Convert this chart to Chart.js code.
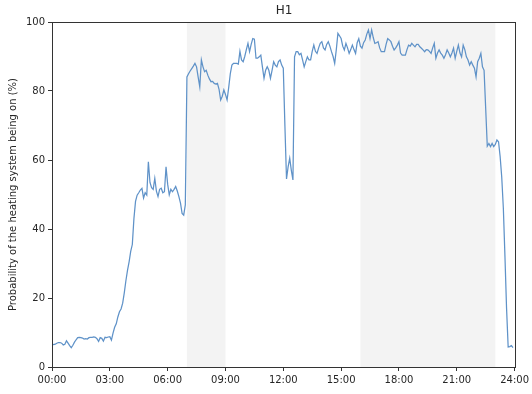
<!DOCTYPE html>
<html>
<head>
<meta charset="utf-8">
<script src="https://cdn.jsdelivr.net/npm/chart.js@4/dist/chart.umd.min.js"></script>
<style>
  html, body { margin: 0; padding: 0; background: #fff; }
  #wrap { width: 532px; height: 394px; }
</style>
</head>
<body>
<div id="wrap"><canvas id="c" width="532" height="394"></canvas></div>
<script>
// Probability (%) that the heating is on, one reading every 5 minutes, 00:00 to 23:55
const stepMinutes = 5;
const probability = [
  6.6, 6.5, 6.6, 6.9, 7.1, 7.1, 6.9, 6.4, 6.6, 7.6, 6.9, 6.2,          // 00h
  5.6, 6.3, 7.2, 7.9, 8.5, 8.6, 8.5, 8.4, 8.1, 8.2, 8.1, 8.5,          // 01h
  8.6, 8.6, 8.7, 8.6, 8.2, 7.4, 8.5, 8.3, 7.5, 8.6, 8.5, 8.7,          // 02h
  8.8, 7.8, 9.8, 11.5, 12.5, 14.5, 16.0, 16.8, 18.5, 21.5, 25.0, 28.0, // 03h
  30.5, 33.5, 35.5, 43.0, 48.0, 49.8, 50.5, 51.3, 51.8, 49.0, 50.5, 49.8, // 04h
  59.5, 53.5, 52.0, 51.5, 54.7, 51.0, 49.4, 51.5, 51.8, 50.5, 50.8, 58.0, // 05h
  53.0, 49.9, 51.5, 50.8, 51.5, 52.3, 51.0, 49.4, 47.5, 44.5, 44.0, 47.0, // 06h
  84.1, 85.0, 85.8, 86.5, 87.2, 88.0, 87.0, 84.0, 81.2, 89.0, 87.0, 85.6, // 07h
  86.0, 84.6, 83.5, 82.7, 82.8, 82.2, 82.0, 82.2, 80.5, 77.4, 78.5, 80.3, // 08h
  79.0, 77.4, 81.0, 85.0, 87.5, 88.0, 88.0, 88.0, 87.8, 91.5, 89.0, 88.5, // 09h
  90.0, 92.0, 93.8, 91.4, 93.5, 95.2, 95.0, 89.5, 89.5, 89.9, 90.4, 87.0, // 10h
  83.7, 86.0, 87.0, 86.0, 83.7, 86.0, 88.5, 87.5, 87.0, 88.5, 89.0, 87.5, // 11h
  86.6, 70.0, 54.5, 58.0, 60.5, 57.0, 54.2, 89.9, 91.4, 91.4, 90.5, 90.9, // 12h
  89.0, 87.0, 88.5, 89.9, 89.0, 89.0, 91.5, 93.3, 91.5, 90.9, 92.5, 93.8, // 13h
  94.3, 92.5, 91.9, 93.5, 94.3, 93.0, 91.4, 90.0, 88.0, 92.0, 96.7, 96.0, // 14h
  95.2, 93.0, 91.9, 93.8, 92.5, 90.9, 92.0, 93.3, 92.0, 90.9, 94.0, 95.2, // 15h
  93.0, 92.4, 94.0, 94.8, 96.5, 97.7, 95.2, 97.7, 95.5, 93.8, 94.0, 94.3, // 16h
  92.5, 91.4, 91.4, 91.4, 93.5, 95.2, 94.8, 94.3, 93.0, 91.9, 92.5, 93.3, // 17h
  94.3, 91.0, 90.4, 90.4, 90.4, 92.0, 93.3, 93.0, 93.8, 93.3, 92.8, 93.5, // 18h
  93.5, 92.8, 92.4, 91.9, 91.4, 92.0, 91.9, 91.5, 90.9, 92.5, 93.8, 89.5, // 19h
  91.0, 91.9, 91.0, 90.4, 89.5, 90.5, 91.9, 91.0, 89.9, 91.0, 92.4, 89.5, // 20h
  91.5, 93.3, 91.0, 89.9, 93.3, 92.0, 89.9, 89.0, 87.5, 88.5, 87.5, 86.6, // 21h
  84.1, 88.5, 89.5, 90.9, 87.0, 86.0, 75.0, 64.0, 64.8, 63.9, 64.8, 63.9, // 22h
  64.5, 65.8, 65.3, 61.0, 55.0, 46.0, 32.0, 17.0, 5.8, 5.9, 6.2, 5.6      // 23h
];

// Shaded periods, in hours [start, end]
const shadedPeriods = [[7, 9], [16, 23]];

// Axis ticks and ranges
const hourTicks = [0, 3, 6, 9, 12, 15, 18, 21, 24];
const percentTicks = [0, 20, 40, 60, 80, 100];
const xRange = [0, 24];
const yRange = [0, 100];

const chartTitle = 'H1';
const yAxisTitle = 'Probability of the heating system being on (%)';

const points = probability.map((v, i) => ({ x: i * stepMinutes / 60, y: v }));

const fontFamily = '"DejaVu Sans", sans-serif';
const axisColor = '#333';
const textColor = '#262626';

function hhmm(h) {
  return String(h).padStart(2, '0') + ':00';
}

// Grey bands behind the line
const bandsPlugin = {
  id: 'bands',
  beforeDatasetsDraw(chart) {
    const { ctx, scales } = chart;
    const top = scales.y.getPixelForValue(yRange[1]);
    const bottom = scales.y.getPixelForValue(yRange[0]);
    ctx.save();
    ctx.fillStyle = '#f3f3f3';
    for (const [a, b] of shadedPeriods) {
      const x1 = scales.x.getPixelForValue(a);
      const x2 = scales.x.getPixelForValue(b);
      ctx.fillRect(x1, top, x2 - x1, bottom - top);
    }
    ctx.restore();
  }
};

// Box around the plot and the title above it
const framePlugin = {
  id: 'frame',
  afterDraw(chart) {
    const { ctx, scales } = chart;
    const l = Math.round(scales.x.getPixelForValue(xRange[0])) + 0.5;
    const r = Math.round(scales.x.getPixelForValue(xRange[1])) + 0.5;
    const t = Math.round(scales.y.getPixelForValue(yRange[1])) + 0.5;
    const b = Math.round(scales.y.getPixelForValue(yRange[0])) + 0.5;
    ctx.save();
    ctx.strokeStyle = axisColor;
    ctx.lineWidth = 1;
    ctx.strokeRect(l, t, r - l, b - t);
    ctx.fillStyle = textColor;
    ctx.font = '12px ' + fontFamily;
    ctx.textAlign = 'center';
    ctx.textBaseline = 'middle';
    ctx.fillText(chartTitle, (l + r) / 2, 11);
    ctx.restore();
  }
};

new Chart(document.getElementById('c'), {
  type: 'line',
  data: {
    datasets: [{
      data: points,
      borderColor: '#5f92c8',
      borderWidth: 1.25,
      pointRadius: 0,
      tension: 0,
      fill: false
    }]
  },
  plugins: [bandsPlugin, framePlugin],
  options: {
    responsive: false,
    animation: false,
    events: [],
    layout: { padding: { left: 0, right: 17, top: 22, bottom: 0 } },
    plugins: {
      legend: { display: false },
      tooltip: { enabled: false },
      title: { display: false }
    },
    scales: {
      x: {
        type: 'linear',
        min: xRange[0],
        max: xRange[1],
        afterBuildTicks(scale) {
          scale.ticks = hourTicks.map(v => ({ value: v }));
        },
        afterFit(scale) { scale.height = 27; },
        ticks: {
          color: textColor,
          font: { family: fontFamily, size: 10 },
          padding: 3,
          maxRotation: 0,
          autoSkip: false,
          callback: v => hhmm(v)
        },
        grid: {
          display: true,
          drawOnChartArea: false,
          drawTicks: true,
          tickLength: 4,
          color: axisColor
        },
        border: { display: false }
      },
      y: {
        type: 'linear',
        min: yRange[0],
        max: yRange[1],
        afterBuildTicks(scale) {
          scale.ticks = percentTicks.map(v => ({ value: v }));
        },
        afterFit(scale) { scale.width = 52; },
        ticks: {
          color: textColor,
          font: { family: fontFamily, size: 10 },
          padding: 3
        },
        grid: {
          display: true,
          drawOnChartArea: false,
          drawTicks: true,
          tickLength: 4,
          color: axisColor
        },
        border: { display: false },
        title: {
          display: true,
          text: yAxisTitle,
          color: textColor,
          font: { family: fontFamily, size: 10 },
          padding: { top: 7, bottom: 0 }
        }
      }
    }
  }
});
</script>
</body>
</html>
